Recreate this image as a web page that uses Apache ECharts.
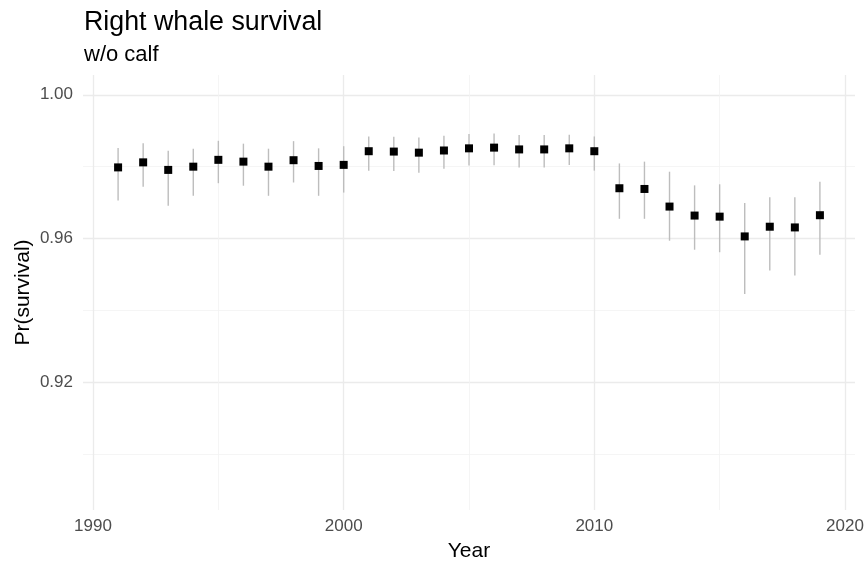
<!DOCTYPE html>
<html>
<head>
<meta charset="utf-8">
<script src="https://cdn.jsdelivr.net/npm/echarts@6/dist/echarts.min.js"></script>
<style>html, body { margin: 0; padding: 0; background: #fff; }</style>
</head>
<body>
<div id="chart" style="width: 868px; height: 564px;"></div>
<script>
// survival estimates per year, with lower / upper interval
const years = [1991, 1992, 1993, 1994, 1995, 1996, 1997, 1998, 1999, 2000,
  2001, 2002, 2003, 2004, 2005, 2006, 2007, 2008, 2009, 2010,
  2011, 2012, 2013, 2014, 2015, 2016, 2017, 2018, 2019];
const survival = [0.9798, 0.9812, 0.9791, 0.9800, 0.9819, 0.9814, 0.9800, 0.9818, 0.9802, 0.9805,
  0.9843, 0.9842, 0.9839, 0.9845, 0.9851, 0.9853, 0.9848, 0.9848, 0.9851, 0.9843,
  0.9740, 0.9738, 0.9689, 0.9664, 0.9661, 0.9606, 0.9633, 0.9631, 0.9665];
const lower = [0.9706, 0.9744, 0.9691, 0.9719, 0.9754, 0.9747, 0.9719, 0.9756, 0.9719, 0.9728,
  0.9789, 0.9788, 0.9783, 0.9794, 0.9803, 0.9804, 0.9798, 0.9798, 0.9805, 0.9789,
  0.9655, 0.9655, 0.9594, 0.9569, 0.9562, 0.9446, 0.9511, 0.9497, 0.9555];
const upper = [0.9852, 0.9865, 0.9844, 0.9850, 0.9872, 0.9864, 0.9850, 0.9871, 0.9851, 0.9857,
  0.9884, 0.9883, 0.9881, 0.9886, 0.9891, 0.9892, 0.9888, 0.9888, 0.9889, 0.9884,
  0.9809, 0.9814, 0.9786, 0.9748, 0.9751, 0.9699, 0.9715, 0.9715, 0.9758];

const xMajor = [1990, 2000, 2010, 2020];
const xMinor = [1995, 2005, 2015];
const yMajor = [0.92, 0.96, 1.00];
const yMinor = [0.90, 0.94, 0.98];

const FONT = '"Liberation Sans", Arial, sans-serif';
const xMin = 1989.6, xMax = 2020.4;
const yMin = 0.8845, yMax = 1.0055;

const chart = echarts.init(document.getElementById('chart'));

const option = {
  backgroundColor: '#fff',
  animation: false,
  title: [
    {
      text: 'Right whale survival',
      left: 84, top: 9, padding: 0,
      textStyle: { fontFamily: FONT, fontSize: 26.8, fontWeight: 'normal', color: '#000' }
    },
    {
      text: 'w/o calf',
      left: 84, top: 44, padding: 0,
      textStyle: { fontFamily: FONT, fontSize: 22, fontWeight: 'normal', color: '#000' }
    }
  ],
  grid: { left: 83, right: 13, top: 75, bottom: 54, outerBoundsMode: 'none', containLabel: false },
  xAxis: [
    {
      type: 'value', min: xMin, max: xMax,
      name: 'Year', nameLocation: 'middle', nameGap: 31, nameMoveOverlap: false,
      nameTextStyle: { fontFamily: FONT, fontSize: 21, color: '#000' },
      axisLine: { show: false },
      axisTick: { show: false, customValues: xMajor },
      axisLabel: {
        customValues: xMajor, margin: 8,
        formatter: (v) => String(v),
        fontFamily: FONT, fontSize: 17, color: '#4d4d4d'
      },
      splitLine: { show: true, lineStyle: { color: '#ebebeb', width: 1.3 } }
    },
    {
      type: 'value', min: xMin, max: xMax,
      axisLine: { show: false },
      axisTick: { show: false, customValues: xMinor },
      axisLabel: { show: false, customValues: xMinor },
      splitLine: { show: true, lineStyle: { color: '#f2f2f2', width: 0.8 } }
    }
  ],
  yAxis: [
    {
      type: 'value', min: yMin, max: yMax,
      name: 'Pr(survival)', nameLocation: 'middle', nameGap: 49, nameMoveOverlap: false,
      nameTextStyle: { fontFamily: FONT, fontSize: 21, color: '#000' },
      axisLine: { show: false },
      axisTick: { show: false, customValues: yMajor },
      axisLabel: {
        customValues: yMajor, margin: 10,
        formatter: (v) => v.toFixed(2),
        fontFamily: FONT, fontSize: 17, color: '#4d4d4d'
      },
      splitLine: { show: true, lineStyle: { color: '#ebebeb', width: 1.3 } }
    },
    {
      type: 'value', min: yMin, max: yMax,
      axisLine: { show: false },
      axisTick: { show: false, customValues: yMinor },
      axisLabel: { show: false, customValues: yMinor },
      splitLine: { show: true, lineStyle: { color: '#f2f2f2', width: 0.8 } }
    }
  ],
  series: [
    {
      name: 'interval',
      type: 'custom',
      silent: true,
      data: years.map((yr, i) => [yr, lower[i], upper[i]]),
      encode: { x: 0, y: [1, 2] },
      renderItem: (params, api) => {
        const lo = api.coord([api.value(0), api.value(1)]);
        const hi = api.coord([api.value(0), api.value(2)]);
        return {
          type: 'line',
          shape: { x1: lo[0], y1: lo[1], x2: hi[0], y2: hi[1] },
          style: { stroke: '#bdbdbd', lineWidth: 1.4 }
        };
      },
      z: 2
    },
    {
      name: 'survival',
      type: 'scatter',
      symbol: 'rect',
      symbolSize: 8,
      itemStyle: { color: '#000', opacity: 1 },
      data: years.map((yr, i) => [yr, survival[i]]),
      z: 3
    }
  ]
};

chart.setOption(option);
</script>
</body>
</html>
